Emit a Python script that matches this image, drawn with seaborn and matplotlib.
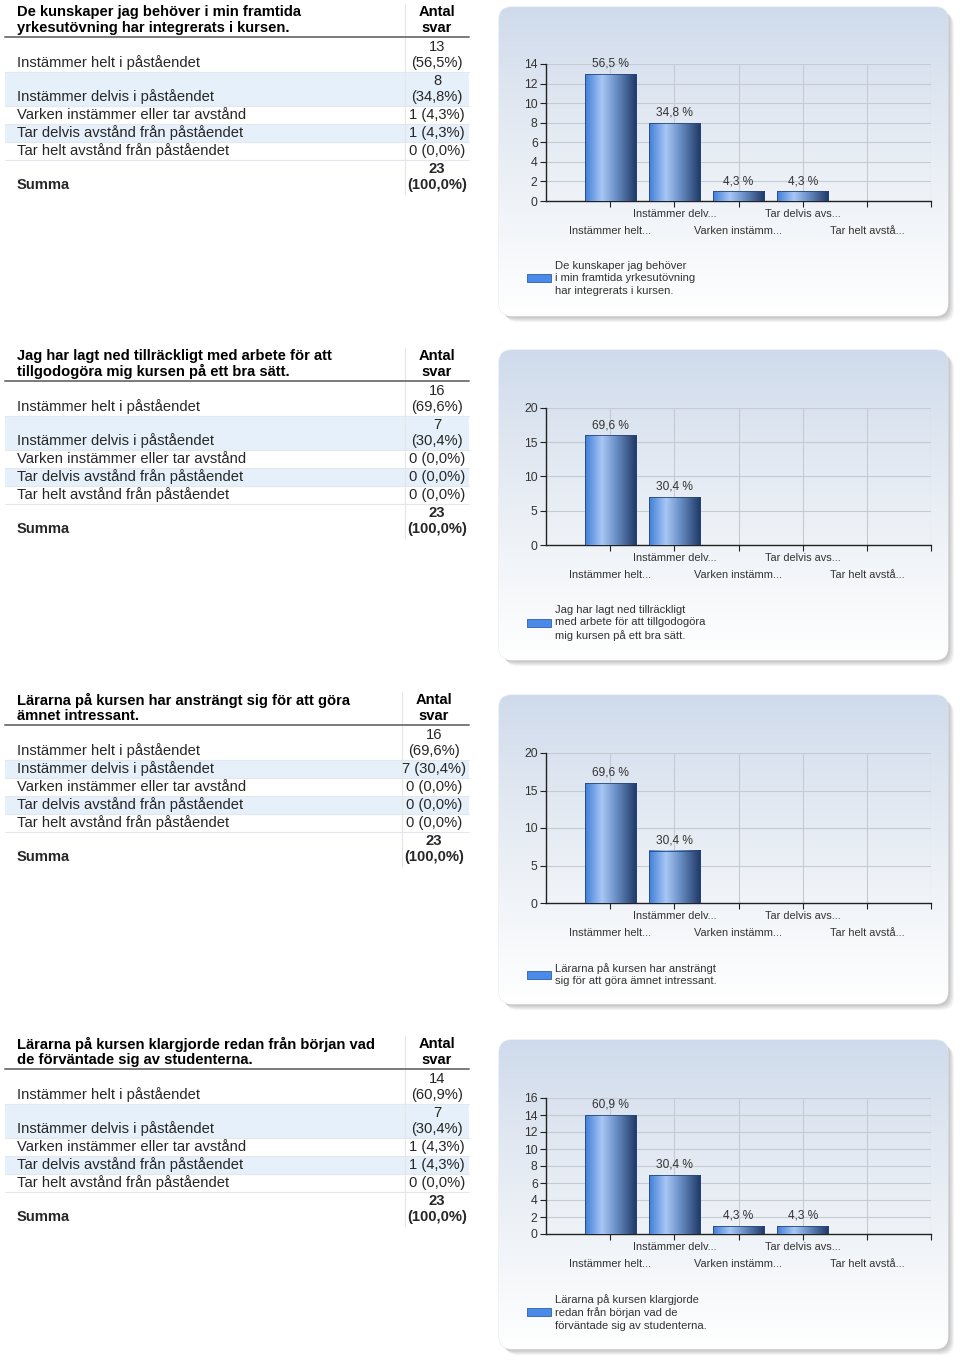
import numpy as np
import pandas as pd
import matplotlib
matplotlib.use("Agg")
import matplotlib.pyplot as plt
import seaborn as sns
from matplotlib.patches import FancyBboxPatch, Rectangle, Patch
from matplotlib.colors import LinearSegmentedColormap
from matplotlib.transforms import blended_transform_factory, offset_copy

# ---------------- data ----------------
categories = [
    "Instämmer helt i påståendet",
    "Instämmer delvis i påståendet",
    "Varken instämmer eller tar avstånd",
    "Tar delvis avstånd från påståendet",
    "Tar helt avstånd från påståendet",
]
short_labels = ["Instämmer helt...", "Instämmer delv...", "Varken instämm...",
                "Tar delvis avs...", "Tar helt avstå..."]
questions = [
    "De kunskaper jag behöver i min framtida\nyrkesutövning har integrerats i kursen.",
    "Jag har lagt ned tillräckligt med arbete för att\ntillgodogöra mig kursen på ett bra sätt.",
    "Lärarna på kursen har ansträngt sig för att göra\nämnet intressant.",
    "Lärarna på kursen klargjorde redan från början vad\nde förväntade sig av studenterna.",
]
legend_labels = [
    "De kunskaper jag behöver\ni min framtida yrkesutövning\nhar integrerats i kursen.",
    "Jag har lagt ned tillräckligt\nmed arbete för att tillgodogöra\nmig kursen på ett bra sätt.",
    "Lärarna på kursen har ansträngt\nsig för att göra ämnet intressant.",
    "Lärarna på kursen klargjorde\nredan från början vad de\nförväntade sig av studenterna.",
]
counts_q1 = [13, 8, 1, 1, 0]
counts_q2 = [16, 7, 0, 0, 0]
counts_q3 = [16, 7, 0, 0, 0]
counts_q4 = [14, 7, 1, 1, 0]
all_counts = [counts_q1, counts_q2, counts_q3, counts_q4]
y_max = [14, 20, 20, 16]
y_step = [2, 5, 5, 2]
sum_label = "Summa"
col_header = "Antal\nsvar"

# ---------------- layout (pixels) ----------------
W, H = 960, 1364
header_y = [12, 356, 700, 1044]
two_line = [
    [True, True, False, False, False, True],
    [True, True, False, False, False, True],
    [True, False, False, False, False, True],
    [True, True, False, False, False, True],
]
value_x = [437, 437, 434, 437]
sep_x = [405, 405, 402, 405]
panel_box = [(499, 7, 948, 316), (499, 350, 948, 660), (499, 695, 948, 1004), (499, 1040, 948, 1349)]
axes_box = [(546, 64, 931, 201), (546, 408, 931, 545), (546, 753, 931, 903), (546, 1098, 931, 1234)]
legend_top = [261, 605, 963, 1294]

sns.set_theme(style="white")
plt.rcParams['font.family'] = ['Liberation Sans', 'DejaVu Sans']

fig = plt.figure(figsize=(W / 100, H / 100), dpi=100)
bg = fig.add_axes([0, 0, 1, 1], zorder=0)
bg.set_xlim(0, W)
bg.set_ylim(H, 0)
bg.axis('off')


def fig_rect(x0, y0, x1, y1):
    return [x0 / W, 1 - y1 / H, (x1 - x0) / W, (y1 - y0) / H]


def pct(c, total):
    return f"{c / total * 100:.1f}".replace('.', ',')


panel_cmap = LinearSegmentedColormap.from_list(
    "panel", [(0, "#cfdbec"), (0.25, "#dde5f0"), (0.6, "#eef2f7"), (1, "#ffffff")])
bar_cmap = LinearSegmentedColormap.from_list(
    "bar", [(0, "#3f7ed8"), (0.33, "#a8c7f4"), (0.6, "#6a8fc6"), (1, "#1c3763")])

FS = 10.6
for b in range(4):
    counts = all_counts[b]
    total = sum(counts)
    hy = header_y[b]
    # ---- table ----
    bg.text(17, hy + 8, questions[b], ha='left', va='center', fontsize=FS,
            fontweight='bold', linespacing=1.1, color='#000')
    bg.text(value_x[b], hy + 8, col_header, ha='center', va='center', fontsize=FS,
            fontweight='bold', linespacing=1.1, multialignment='center', color='#000')
    line_y = hy + 25
    y = line_y + 1
    rows = categories + [sum_label]
    vals = counts + [total]
    for r, (lab, c) in enumerate(zip(rows, vals)):
        h = 34 if two_line[b][r] else 18
        if r in (1, 3):
            bg.add_patch(Rectangle((5, y), 464, h, facecolor='#e6f0fa', edgecolor='none', zorder=1))
        if r < 5:
            bg.plot([5, 469], [y + h, y + h], color='#e2e8ee', lw=0.8, zorder=2)
        bold = 'bold' if r == 5 else 'normal'
        p = pct(c, total)
        if two_line[b][r]:
            bg.text(17, y + 25, lab, ha='left', va='center', fontsize=FS, fontweight=bold, zorder=3)
            bg.text(value_x[b], y + 17, f"{c}\n({p}%)", ha='center', va='center', fontsize=FS,
                    fontweight=bold, linespacing=1.1, multialignment='center', zorder=3)
        else:
            bg.text(17, y + 9, lab, ha='left', va='center', fontsize=FS, fontweight=bold, zorder=3)
            bg.text(value_x[b], y + 9, f"{c} ({p}%)", ha='center', va='center', fontsize=FS,
                    fontweight=bold, zorder=3)
        y += h
    bg.plot([sep_x[b], sep_x[b]], [hy - 8, y], color='#e6e6e6', lw=0.8, zorder=2)
    bg.plot([5, 469], [line_y, line_y], color='#7a7a7a', lw=1.4, zorder=4)

    # ---- panel ----
    x0, y0, x1, y1 = panel_box[b]
    for k in range(1, 7):
        sh = FancyBboxPatch((x0 + k, y0 + k), x1 - x0, y1 - y0,
                            boxstyle="round,pad=0,rounding_size=13",
                            facecolor='#000000', edgecolor='none', alpha=0.045, zorder=1)
        bg.add_patch(sh)
    box = FancyBboxPatch((x0, y0), x1 - x0, y1 - y0, boxstyle="round,pad=0,rounding_size=13",
                         facecolor='white', edgecolor='#e4e8ee', lw=0.8, zorder=2)
    bg.add_patch(box)
    im = bg.imshow(np.linspace(0, 1, 256)[:, None], cmap=panel_cmap, aspect='auto',
                   extent=[x0, x1, y1, y0], zorder=2.5, interpolation='bilinear')
    im.set_clip_path(box)

    # ---- chart ----
    ax = fig.add_axes(fig_rect(*axes_box[b]), zorder=2)
    ax.patch.set_alpha(0)
    df = pd.DataFrame({"svar": short_labels, "antal": counts})
    sns.barplot(data=df, x="svar", y="antal", ax=ax, width=0.8, color="#4a86dc",
                edgecolor="#27467a", linewidth=0.6, zorder=3)
    grad = np.linspace(0, 1, 256)[None, :]
    for p_ in list(ax.patches):
        hgt = p_.get_height()
        if hgt <= 0:
            continue
        bx, bw = p_.get_x(), p_.get_width()
        gi = ax.imshow(grad, cmap=bar_cmap, extent=[bx, bx + bw, 0, hgt], aspect='auto',
                       zorder=3.5, interpolation='bilinear')
        gi.set_clip_path(p_)
        p_.set_facecolor('none')
        p_.set_zorder(4)
    labels = [f"{pct(c, total)} %" if c > 0 else "" for c in counts]
    ax.bar_label(ax.containers[0], labels=labels, padding=3, fontsize=8.6, color='#333333')

    ax.set_xlim(-1, 5)
    ax.set_ylim(0, y_max[b])
    ax.set_yticks(np.arange(0, y_max[b] + 1, y_step[b]))
    ax.set_xticks(range(6))
    ax.set_xticklabels([""] * 6)
    ax.set_xlabel("")
    ax.set_ylabel("")
    ax.grid(True, color='#c6cad2', lw=0.8)
    ax.set_axisbelow(True)
    for s in ['top', 'right']:
        ax.spines[s].set_visible(False)
    for s in ['left', 'bottom']:
        ax.spines[s].set_visible(True)
        ax.spines[s].set_color('#222222')
        ax.spines[s].set_linewidth(1.0)
    ax.tick_params(axis='both', direction='out', length=4, width=0.8, color='#222222',
                   labelsize=8.8, labelcolor='#333333', pad=2)
    ax.tick_params(axis='x', bottom=True)
    ax.tick_params(axis='y', left=True)

    trans = blended_transform_factory(ax.transData, ax.transAxes)
    for i, lab in enumerate(short_labels):
        off = -13 if i % 2 == 1 else -30
        t = offset_copy(trans, fig=fig, x=0, y=off * 0.72, units='points')
        ax.text(i, 0, lab, transform=t, ha='center', va='center', fontsize=7.9,
                color='#333333', clip_on=False)

    handle = Patch(facecolor='#4a8ae8', edgecolor='#2f5fa8', lw=0.6)
    leg = ax.legend(handles=[handle], labels=[legend_labels[b]], loc='upper left',
                    bbox_to_anchor=(527 / W, 1 - legend_top[b] / H), bbox_transform=fig.transFigure,
                    frameon=False, fontsize=8.1, handlelength=2.1, handleheight=0.72,
                    handletextpad=0.42, borderpad=0, borderaxespad=0, labelcolor='#333333')
    for txt in leg.get_texts():
        txt.set_linespacing(1.3)

fig.savefig("out.png", dpi=100)
